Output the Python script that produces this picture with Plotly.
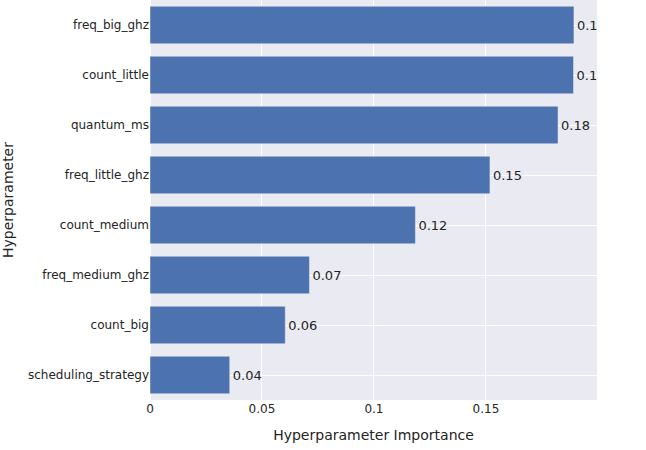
import plotly.graph_objects as go

params = ["scheduling_strategy", "count_big", "freq_medium_ghz", "count_medium",
          "freq_little_ghz", "quantum_ms", "count_little", "freq_big_ghz"]
importances = [0.0356, 0.0604, 0.0712, 0.1185, 0.1518, 0.1822, 0.1891, 0.1893]
labels = [f"{v:.2f}" for v in importances]

fig = go.Figure(go.Bar(
    x=importances, y=params, orientation="h",
    text=labels, textposition="outside", cliponaxis=True,
    textfont=dict(size=13),
    marker=dict(color="rgb(76,114,176)", line=dict(color="rgb(234,234,242)", width=0.5)),
))
fig.update_layout(
    template="seaborn",
    width=646, height=450,
    margin=dict(l=150, r=49, t=0, b=50),
    font=dict(family="DejaVu Sans", size=12, color="rgb(36,36,36)"),
    showlegend=False,
    bargap=0.25,
)
fig.update_xaxes(title=dict(text="Hyperparameter Importance", font=dict(size=14)),
                 range=[0, 0.1996], automargin=False,
                 tickvals=[0, 0.05, 0.1, 0.15], ticktext=["0", "0.05", "0.1", "0.15"])
fig.update_yaxes(title=dict(text="Hyperparameter", font=dict(size=14)), automargin=False)
fig.write_html("out.html", config={"displayModeBar": False},
               post_script="document.body.style.margin='0';")
